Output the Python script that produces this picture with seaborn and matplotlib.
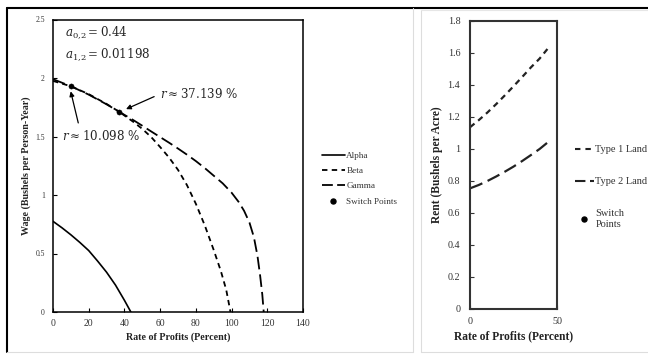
import numpy as np
import pandas as pd
import matplotlib
matplotlib.use('Agg')
import matplotlib.pyplot as plt
import seaborn as sns
from matplotlib.lines import Line2D
from matplotlib.ticker import FuncFormatter

# ---- data ----
alpha_r = [0.0, 5.0, 10.0, 15.0, 20.0, 25.0, 30.0, 35.0, 40.0, 43.6]
alpha_w = [0.775, 0.72, 0.66, 0.595, 0.525, 0.435, 0.34, 0.23, 0.10, 0.0]

beta_r = [0.0, 10.1, 20.0, 30.0, 37.1, 45.0, 50.0, 55.0, 60.0, 65.0, 70.0, 75.0,
          80.0, 85.0, 90.0, 94.0, 97.0, 99.4]
beta_w = [1.975, 1.929, 1.862, 1.778, 1.711, 1.625, 1.565, 1.495, 1.41, 1.32, 1.215, 1.085,
          0.925, 0.74, 0.53, 0.35, 0.19, 0.0]

gamma_r = [0.0, 10.1, 20.0, 30.0, 37.1, 45.0, 50.0, 55.0, 60.0, 65.0, 70.0, 75.0, 80.0,
           85.0, 90.0, 95.0, 100.0, 104.0, 107.0, 110.0, 112.5, 114.5, 116.0, 117.2, 118.0]
gamma_w = [1.99, 1.929, 1.858, 1.775, 1.711, 1.64, 1.592, 1.543, 1.495, 1.447, 1.397, 1.345, 1.29,
           1.23, 1.165, 1.10, 1.02, 0.94, 0.865, 0.765, 0.64, 0.48, 0.31, 0.15, 0.0]

switch_r = [10.098, 37.139]
switch_w = [1.929, 1.711]

type1_r = [0.0, 5.0, 10.0, 15.0, 20.0, 25.0, 30.0, 35.0, 40.0, 44.5]
type1_rent = [1.136, 1.18, 1.228, 1.28, 1.335, 1.392, 1.45, 1.51, 1.565, 1.625]
type2_r = [0.0, 5.0, 10.0, 15.0, 20.0, 25.0, 30.0, 35.0, 40.0, 44.5]
type2_rent = [0.754, 0.775, 0.80, 0.828, 0.858, 0.89, 0.925, 0.962, 1.0, 1.04]

left_xticks = [0, 20, 40, 60, 80, 100, 120, 140]
left_yticks = [0, 0.5, 1, 1.5, 2, 2.5]
right_xticks = [0, 50]
right_yticks = [0, 0.2, 0.4, 0.6, 0.8, 1.0, 1.2, 1.4, 1.6, 1.8]

# ---- style ----
sns.set_theme(style='ticks')
plt.rcParams['font.family'] = ['Liberation Serif', 'DejaVu Serif']
plt.rcParams['mathtext.fontset'] = 'dejavuserif'

W, H = 648, 358
fig = plt.figure(figsize=(W / 100, H / 100), dpi=100)
fig.patch.set_facecolor('white')

ax1 = fig.add_axes([53 / W, 1 - 312 / H, 250 / W, (312 - 19.5) / H])
ax2 = fig.add_axes([470 / W, 1 - 309 / H, 87 / W, 288 / H])

short_dash = (0, (3.0, 2.3))
long_dash = (0, (7.0, 2.8))
TXT = '#262626'

# ---- left panel ----
sns.lineplot(x=alpha_r, y=alpha_w, ax=ax1, color='black', lw=1.2, sort=False)
sns.lineplot(x=beta_r, y=beta_w, ax=ax1, color='black', lw=1.3, linestyle=short_dash, sort=False)
sns.lineplot(x=gamma_r, y=gamma_w, ax=ax1, color='black', lw=1.3, linestyle=long_dash, sort=False)
sns.scatterplot(x=switch_r, y=switch_w, ax=ax1, color='black', s=14, edgecolor='black', zorder=5)

ax1.set_xlim(0, 140)
ax1.set_ylim(0, 2.5)
ax1.set_xticks(left_xticks)
ax1.set_yticks(left_yticks)
fmt = FuncFormatter(lambda v, p: f'{v:g}')
ax1.xaxis.set_major_formatter(fmt)
ax1.yaxis.set_major_formatter(fmt)
ax1.tick_params(axis='both', direction='in', length=3, width=0.8, color='black',
                labelcolor='#333333', top=False, right=False)
ax1.tick_params(axis='x', labelsize=7, pad=5)
ax1.tick_params(axis='y', labelsize=5.5, pad=6)
for s in ax1.spines.values():
    s.set_color('black')
    s.set_linewidth(1.1)
ax1.set_xlabel('Rate of Profits (Percent)', fontsize=7.2, fontweight='bold', labelpad=3, color='#222222')
ax1.set_ylabel('Wage (Bushels per Person-Year)', fontsize=7.2, fontweight='bold', labelpad=3, color='#222222')

ax1.text(6.7, 2.392, r'$a_{0{,}2}=0.44$', fontsize=8.6, ha='left', va='center', color=TXT)
ax1.text(6.7, 2.206, r'$a_{1{,}2}=0.01198$', fontsize=8.6, ha='left', va='center', color=TXT)

ax1.annotate(r'$r\approx 37.139\ \%$', xy=(40.9, 1.734), xytext=(59.9, 1.863),
             fontsize=8.6, ha='left', va='center', color=TXT,
             arrowprops=dict(arrowstyle='-|>', color='black', lw=0.9, mutation_scale=7,
                             shrinkA=2, shrinkB=0, relpos=(0, 0.5)))
ax1.annotate(r'$r\approx 10.098\ \%$', xy=(9.9, 1.886), xytext=(4.9, 1.505),
             fontsize=8.6, ha='left', va='center', color=TXT,
             arrowprops=dict(arrowstyle='-|>', color='black', lw=0.9, mutation_scale=7,
                             shrinkA=2, shrinkB=0, relpos=(0.23, 1.0)))

h_left = [Line2D([], [], color='black', lw=1.2),
          Line2D([], [], color='black', lw=1.3, linestyle=(0, (3.0, 2.4))),
          Line2D([], [], color='black', lw=1.3, linestyle=(0, (6.0, 2.4))),
          Line2D([], [], color='black', marker='o', ls='none', ms=3.6)]
ax1.legend(h_left, ['Alpha', 'Beta', 'Gamma', 'Switch Points'], loc='upper left',
           bbox_to_anchor=(322 / W, 1 - 151.5 / H), bbox_transform=fig.transFigure,
           frameon=False, fontsize=6.6, handlelength=2.5, handletextpad=0.15,
           labelspacing=0.75, borderpad=0, borderaxespad=0, labelcolor='#333333')

# ---- right panel ----
sns.lineplot(x=type1_r, y=type1_rent, ax=ax2, color='#222222', lw=1.6, linestyle=(0, (2.6, 2.1)), sort=False)
sns.lineplot(x=type2_r, y=type2_rent, ax=ax2, color='#222222', lw=1.6, linestyle=(0, (6.0, 2.6)), sort=False)
ax2.set_xlim(0, 50)
ax2.set_ylim(0, 1.8)
ax2.set_xticks(right_xticks)
ax2.set_yticks(right_yticks)
ax2.xaxis.set_major_formatter(fmt)
ax2.yaxis.set_major_formatter(fmt)
ax2.tick_params(axis='both', direction='in', length=3, width=0.8, color='#333333',
                labelcolor='#333333', labelsize=7.3, top=False, right=False)
ax2.tick_params(axis='y', pad=7)
ax2.tick_params(axis='x', pad=6)
for s in ax2.spines.values():
    s.set_color('#333333')
    s.set_linewidth(1.5)
ax2.set_xlabel('Rate of Profits (Percent)', fontsize=8.3, fontweight='bold', labelpad=3, color='#222222')
ax2.set_ylabel('Rent (Bushels per Acre)', fontsize=8.3, fontweight='bold', labelpad=3, color='#222222')

h_right = [Line2D([], [], color='#222222', lw=1.5, linestyle=(0, (2.6, 2.4))),
           Line2D([], [], color='#222222', lw=1.5, linestyle=(0, (5.0, 2.2))),
           Line2D([], [], color='black', marker='o', ls='none', ms=3.6)]
ax2.legend(h_right, ['Type 1 Land', 'Type 2 Land', 'Switch\nPoints'], loc='upper left',
           bbox_to_anchor=(575 / W, 1 - 145 / H), bbox_transform=fig.transFigure,
           frameon=False, fontsize=7.5, handlelength=1.8, handletextpad=0.15,
           labelspacing=2.2, borderpad=0, borderaxespad=0, labelcolor='#333333')

# ---- panel frames ----
def fline(xs, ys, color, lw):
    fig.add_artist(Line2D([x / W for x in xs], [1 - y / H for y in ys],
                          transform=fig.transFigure, color=color, lw=lw))

fline([7, 648], [7.5, 7.5], 'black', 1.5)
fline([7, 7], [7.5, 352], 'black', 1.5)
fline([7, 413], [352, 352], '#dddddd', 0.8)
fline([413, 413], [7.5, 352], '#dddddd', 0.8)
fline([421, 421], [10, 352], '#dddddd', 0.8)
fline([421, 648], [352, 352], '#dddddd', 0.8)
fline([421, 648], [10, 10], '#e6e6e6', 0.8)

fig.savefig('out.png', dpi=100, facecolor='white')
